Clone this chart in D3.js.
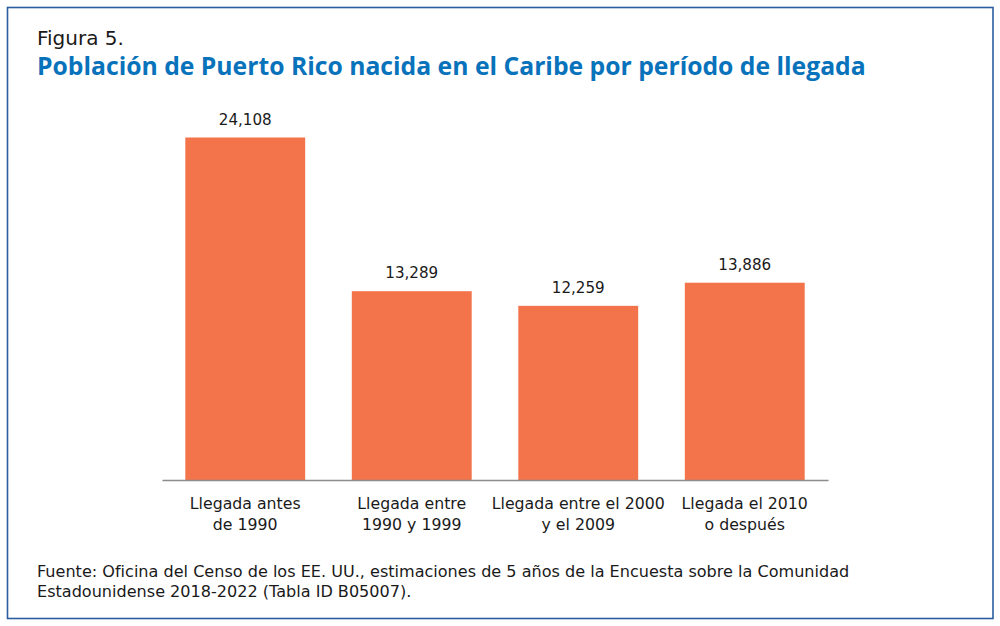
<!DOCTYPE html>
<html lang="es">
<head>
<meta charset="UTF-8">
<title>Figura 5</title>
<script src="https://d3js.org/d3.v7.min.js"></script>
<style>
    body { margin: 0; background: #fff; }
    svg { display: block; font-family: "DejaVu Sans", sans-serif; }
</style>
</head>
<body>
<script>
    // Datos
    const categories = ["antes1990", "1990s", "2000s", "2010plus"];
    const labels = [
        ["Llegada antes", "de 1990"],
        ["Llegada entre", "1990 y 1999"],
        ["Llegada entre el 2000", "y el 2009"],
        ["Llegada el 2010", "o después"]
    ];
    const values = [24108, 13289, 12259, 13886];

    const width = 1000, height = 626;
    const svg = d3.select("body").append("svg")
        .attr("width", width)
        .attr("height", height);

    // marco
    svg.append("rect")
        .attr("x", 7.5).attr("y", 7.5)
        .attr("width", 985.5).attr("height", 611)
        .attr("fill", "none")
        .attr("stroke", "#2a5d9f")
        .attr("stroke-width", 1.6);

    // ajusta el tamaño de letra para que el texto mida "target" px
    function fitSize(sel, target) {
        const w = sel.node().getComputedTextLength();
        const fs = parseFloat(sel.attr("font-size"));
        const s = fs * target / w;
        sel.attr("font-size", s);
        return s;
    }

    const fig = svg.append("text")
        .attr("x", 37).attr("y", 45)
        .attr("font-size", 19)
        .attr("fill", "#1a1a1a")
        .text("Figura 5.");
    fitSize(fig, 87);

    const title = svg.append("text")
        .attr("x", 37).attr("y", 75)
        .attr("font-size", 21)
        .attr("font-weight", "bold")
        .attr("font-family", "'Open Sans', 'Noto Sans', sans-serif")
        .attr("fill", "#0872bb")
        .text("Población de Puerto Rico nacida en el Caribe por período de llegada");
    fitSize(title, 829);

    // escalas
    const x = d3.scaleBand()
        .domain(categories)
        .range([162, 828])
        .paddingInner(0.28)
        .paddingOuter(0.14);

    const y = d3.scaleLinear()
        .domain([0, 24108])
        .range([480, 137.5]);

    svg.append("g")
        .selectAll("rect")
        .data(values)
        .join("rect")
        .attr("x", (d, i) => x(categories[i]))
        .attr("width", x.bandwidth())
        .attr("y", d => y(d))
        .attr("height", d => y(0) - y(d))
        .attr("fill", "#f3734a");

    const vals = svg.append("g")
        .selectAll("text")
        .data(values)
        .join("text")
        .attr("x", (d, i) => x(categories[i]) + x.bandwidth() / 2)
        .attr("y", d => y(d) - 13)
        .attr("text-anchor", "middle")
        .attr("font-size", 15)
        .attr("fill", "#1a1a1a")
        .text(d => d3.format(",")(d));
    const vs = fitSize(d3.select(vals.node()), 53);
    vals.attr("font-size", vs);

    // eje
    const axis = svg.append("g")
        .attr("transform", `translate(0,${y(0)})`)
        .call(d3.axisBottom(x).tickSize(0).tickFormat(""));
    axis.select(".domain").attr("stroke", "#8c8c8c").attr("stroke-width", 1.5);

    const tick = svg.append("g")
        .selectAll("text")
        .data(categories)
        .join("text")
        .attr("x", d => x(d) + x.bandwidth() / 2)
        .attr("y", 509)
        .attr("text-anchor", "middle")
        .attr("font-size", 15)
        .attr("fill", "#1a1a1a");
    tick.selectAll("tspan")
        .data((d, i) => labels[i])
        .join("tspan")
        .attr("x", function() { return this.parentNode.getAttribute("x"); })
        .attr("dy", (d, i) => i === 0 ? 0 : 21)
        .text(d => d);
    // "Llegada entre el 2000" mide unos 173 px
    const t0 = tick.filter((d, i) => i === 2).select("tspan").node().getComputedTextLength();
    tick.attr("font-size", 15 * 173 / t0);

    // fuente
    const src = svg.append("text")
        .attr("x", 37).attr("y", 577)
        .attr("font-size", 15)
        .attr("fill", "#1a1a1a");
    const l1 = src.append("tspan").attr("x", 37)
        .text("Fuente: Oficina del Censo de los EE. UU., estimaciones de 5 años de la Encuesta sobre la Comunidad");
    src.append("tspan").attr("x", 37).attr("dy", 20)
        .text("Estadounidense 2018-2022 (Tabla ID B05007).");
    src.attr("font-size", 15 * 813 / l1.node().getComputedTextLength());
</script>
</body>
</html>
